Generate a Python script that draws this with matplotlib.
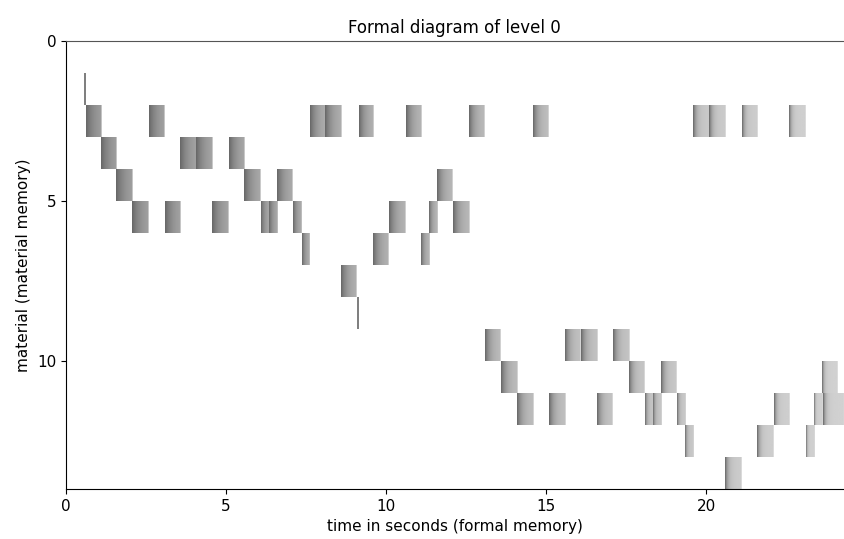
import matplotlib
matplotlib.use("Agg")
import matplotlib.pyplot as plt
import numpy as np

# material row of every event (top edge of the row)
rows = [1,
        2, 2, 2, 2, 2, 2, 2, 2, 2, 2, 2, 2,
        3, 3, 3, 3,
        4, 4, 4, 4,
        5, 5, 5, 5, 5, 5, 5, 5, 5,
        6, 6, 6,
        7,
        8,
        9, 9, 9, 9,
        10, 10, 10, 10,
        11, 11, 11, 11, 11, 11, 11, 11, 11,
        12, 12, 12,
        13]
# start time of every event (s)
starts = [0.55,
          0.61, 2.59, 7.62, 8.09, 9.16, 10.62, 12.60, 14.60, 19.60, 20.10, 21.12, 22.60,
          1.08, 3.57, 4.07, 5.09,
          1.57, 5.57, 6.59, 11.60,
          2.07, 3.08, 4.57, 6.08, 6.34, 7.08, 10.09, 11.35, 12.09,
          7.36, 9.60, 11.09,
          8.59,
          9.08,
          13.09, 15.60, 16.09, 17.10,
          13.58, 17.60, 18.60, 23.63,
          14.09, 15.10, 16.60, 18.10, 18.35, 19.10, 22.13, 23.38, 23.64,
          19.35, 21.60, 23.13,
          20.60]
# end time of every event (s)
ends = [0.60,
        1.08, 3.08, 8.09, 8.59, 9.60, 11.09, 13.08, 15.08, 20.10, 20.60, 21.60, 23.12,
        1.56, 4.07, 4.57, 5.56,
        2.07, 6.08, 7.08, 12.09,
        2.58, 3.56, 5.08, 6.34, 6.59, 7.36, 10.60, 11.60, 12.59,
        7.60, 10.09, 11.34,
        9.08,
        9.14,
        13.58, 16.09, 16.62, 17.60,
        14.08, 18.09, 19.09, 24.12,
        14.60, 15.62, 17.09, 18.35, 18.60, 19.35, 22.60, 23.63, 24.30,
        19.62, 22.12, 23.38,
        21.12]

x_max = 24.28
y_max = 14

fig = plt.figure(figsize=(8.44, 5.39), dpi=100)
ax = fig.add_axes([0.0782, 0.0928, 0.9206, 0.8311])

u = np.linspace(0, 1, 60)
for r, s, e in zip(rows, starts, ends):
    f = s / 24.0
    if e - s < 0.1:
        # very short events -> thin line
        grad = np.full((1, 4), 0.5)
    else:
        l_end = 0.66 + 0.16 * f
        l_start = 0.40
        sc = 0.6 - 0.5 * f
        grad = (l_end - (l_end - l_start) * np.exp(-u / sc))[None, :]
        grad[0, -2:] = 0.9
    ax.imshow(grad, cmap="gray", vmin=0, vmax=1, aspect="auto",
              interpolation="bilinear", extent=(s, e, r + 1, r), zorder=2)

ax.set_xlim(0, x_max)
ax.set_ylim(y_max, 0)
ax.set_xticks([0, 5, 10, 15, 20])
ax.set_yticks([0, 5, 10])
ax.tick_params(labelsize=11)
ax.spines["right"].set_visible(False)
ax.spines["top"].set_color("#555555")
ax.set_title("Formal diagram of level 0", fontsize=12)
ax.set_xlabel("time in seconds (formal memory)", fontsize=11)
ax.set_ylabel("material (material memory)", fontsize=11)

fig.savefig("out.png", dpi=100)
